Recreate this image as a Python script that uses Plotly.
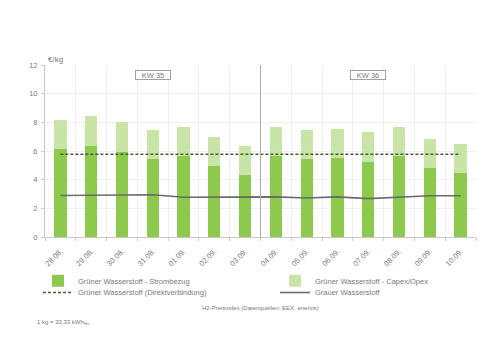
import plotly.graph_objects as go

dates = ["28.08.", "29.08.", "30.08.", "31.08.", "01.09.", "02.09.", "03.09.",
         "04.09.", "05.09.", "06.09.", "07.09.", "08.09.", "09.09.", "10.09."]
strombezug = [6.16, 6.37, 5.95, 5.44, 5.63, 4.98, 4.33, 5.63, 5.42, 5.49, 5.26, 5.63, 4.79, 4.46]
gesamt = [8.18, 8.42, 8.02, 7.44, 7.67, 6.98, 6.37, 7.65, 7.46, 7.56, 7.32, 7.65, 6.81, 6.51]
capex_opex = [round(g - s, 2) for g, s in zip(gesamt, strombezug)]
direkt = [5.77] * 14
grau = [2.90, 2.92, 2.93, 2.95, 2.77, 2.77, 2.77, 2.80, 2.72, 2.80, 2.68, 2.77, 2.88, 2.88]
week_labels = ["KW 35", "KW 36"]
week_centers = ["31.08.", "07.09."]

dark_green = "#8cc94c"
light_green = "#c6e4a3"
txt = "#7a7a7a"
FONT = "Liberation Sans"

W, H = 500, 346
L, R, T, B = 45, 24, 65, 109
pw, ph = W - L - R, H - T - B

fig = go.Figure()
fig.add_bar(x=dates, y=strombezug, name="Grüner Wasserstoff - Strombezug", legend="legend",
            marker=dict(color=dark_green, line=dict(width=0)))
fig.add_bar(x=dates, y=capex_opex, name="Grüner Wasserstoff - Capex/Opex", legend="legend2",
            marker=dict(color=light_green, line=dict(width=0),
                        pattern=dict(shape="x", fgcolor="#dbeec6", size=3, solidity=0.3)))
fig.add_scatter(x=dates, y=direkt, mode="lines", name="Grüner Wasserstoff (Direktverbindung)",
                legend="legend3", line=dict(color="#4d5a35", width=1.5, dash="3px,2px"))
fig.add_scatter(x=dates, y=grau, mode="lines", name="Grauer Wasserstoff", legend="legend4",
                line=dict(color="#6b6b6b", width=1.6))

# week separator between 03.09. and 04.09.
fig.add_shape(type="line", xref="x", yref="paper", x0=6.5, x1=6.5, y0=0, y1=1,
              line=dict(color="#a9aab8", width=1))

for lab, c in zip(week_labels, week_centers):
    fig.add_annotation(x=c, y=11.3, xref="x", yref="y", text=lab, showarrow=False,
                       yanchor="middle", width=34, height=8, borderpad=0,
                       font=dict(size=7.5, color=txt, family=FONT),
                       bordercolor="#a0a0a0", borderwidth=1, bgcolor="white")


def px_to_paper(xp, yp):
    return (xp - L) / pw, (H - B - yp) / ph


ex, ey = px_to_paper(46, 60)
fig.add_annotation(x=ex, y=ey, xref="paper", yref="paper", text="€/kg", showarrow=False,
                   xanchor="left", yanchor="middle",
                   font=dict(size=8, color=txt, family=FONT))
fx, fy = px_to_paper(260, 307.7)
fig.add_annotation(x=fx, y=fy, xref="paper", yref="paper",
                   text="H2-Preisindex (Datenquellen: EEX, enervis)", yanchor="middle",
                   showarrow=False, font=dict(size=6, color=txt, family=FONT))
nx, ny = px_to_paper(35, 322)
fig.add_annotation(x=nx, y=ny, xref="paper", yref="paper", text="1 kg = 33,33 kWh<sub>Hu</sub>",
                   showarrow=False, xanchor="left", yanchor="middle",
                   font=dict(size=6, color=txt, family=FONT))


def leg(xp, yp):
    return dict(xref="container", yref="container", x=xp / W, y=1 - yp / H,
                xanchor="left", yanchor="middle", orientation="v",
                font=dict(size=7.5, color=txt, family=FONT), itemwidth=30,
                bgcolor="rgba(0,0,0,0)", borderwidth=0)


fig.update_layout(
    width=W, height=H, barmode="stack", bargap=0.6,
    margin=dict(l=L, r=R, t=T, b=B, autoexpand=False),
    paper_bgcolor="white", plot_bgcolor="white",
    font=dict(family=FONT, color=txt, size=7),
    showlegend=True,
    legend=leg(38, 280.7),
    legend2=leg(275, 280.7),
    legend3=leg(38, 292.5),
    legend4=leg(275, 292.5),
)
fig.update_xaxes(showgrid=True, gridcolor="#eef0f4", tickson="boundaries", ticks="outside",
                 ticklen=3, tickcolor="#c8c8c8", tickangle=-45, showline=True, linecolor="#c8c8c8",
                 tickfont=dict(size=7.5, color=txt), range=[-0.5, 13.5], automargin=False,
                 ticklabelstandoff=6)
fig.update_yaxes(range=[0, 12], dtick=2, showgrid=True, gridcolor="#eef0f4", showline=True,
                 linecolor="#c8c8c8", ticks="outside", ticklen=3, tickcolor="#c8c8c8",
                 tickfont=dict(size=7.5, color=txt), zeroline=False, automargin=False,
                 ticklabelstandoff=2)

fig.write_html("out.html")
